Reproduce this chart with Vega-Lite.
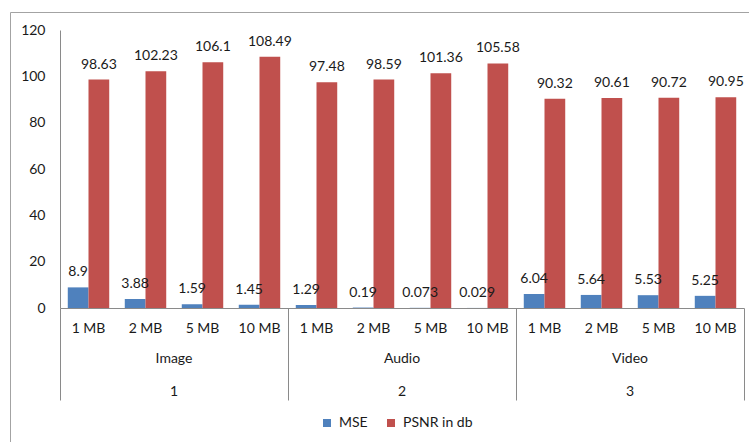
{
  "$schema": "https://vega.github.io/schema/vega-lite/v6.json",
  "width": 745,
  "height": 440,
  "autosize": {"type": "none"},
  "padding": {"left": 10, "top": 12, "right": -6, "bottom": -10},
  "config": {
    "view": {"stroke": "#a3a3a3", "strokeWidth": 1},
    "font": "Lato"
  },
  "datasets": {
    "measures": [
      {"group": "Image", "size": "1 MB", "key": "Image|1 MB", "series": "MSE", "value": 8.9},
      {"group": "Image", "size": "1 MB", "key": "Image|1 MB", "series": "PSNR in db", "value": 98.63},
      {"group": "Image", "size": "2 MB", "key": "Image|2 MB", "series": "MSE", "value": 3.88},
      {"group": "Image", "size": "2 MB", "key": "Image|2 MB", "series": "PSNR in db", "value": 102.23},
      {"group": "Image", "size": "5 MB", "key": "Image|5 MB", "series": "MSE", "value": 1.59},
      {"group": "Image", "size": "5 MB", "key": "Image|5 MB", "series": "PSNR in db", "value": 106.1},
      {"group": "Image", "size": "10 MB", "key": "Image|10 MB", "series": "MSE", "value": 1.45},
      {"group": "Image", "size": "10 MB", "key": "Image|10 MB", "series": "PSNR in db", "value": 108.49},
      {"group": "Audio", "size": "1 MB", "key": "Audio|1 MB", "series": "MSE", "value": 1.29},
      {"group": "Audio", "size": "1 MB", "key": "Audio|1 MB", "series": "PSNR in db", "value": 97.48},
      {"group": "Audio", "size": "2 MB", "key": "Audio|2 MB", "series": "MSE", "value": 0.19},
      {"group": "Audio", "size": "2 MB", "key": "Audio|2 MB", "series": "PSNR in db", "value": 98.59},
      {"group": "Audio", "size": "5 MB", "key": "Audio|5 MB", "series": "MSE", "value": 0.073},
      {"group": "Audio", "size": "5 MB", "key": "Audio|5 MB", "series": "PSNR in db", "value": 101.36},
      {"group": "Audio", "size": "10 MB", "key": "Audio|10 MB", "series": "MSE", "value": 0.029},
      {"group": "Audio", "size": "10 MB", "key": "Audio|10 MB", "series": "PSNR in db", "value": 105.58},
      {"group": "Video", "size": "1 MB", "key": "Video|1 MB", "series": "MSE", "value": 6.04},
      {"group": "Video", "size": "1 MB", "key": "Video|1 MB", "series": "PSNR in db", "value": 90.32},
      {"group": "Video", "size": "2 MB", "key": "Video|2 MB", "series": "MSE", "value": 5.64},
      {"group": "Video", "size": "2 MB", "key": "Video|2 MB", "series": "PSNR in db", "value": 90.61},
      {"group": "Video", "size": "5 MB", "key": "Video|5 MB", "series": "MSE", "value": 5.53},
      {"group": "Video", "size": "5 MB", "key": "Video|5 MB", "series": "PSNR in db", "value": 90.72},
      {"group": "Video", "size": "10 MB", "key": "Video|10 MB", "series": "MSE", "value": 5.25},
      {"group": "Video", "size": "10 MB", "key": "Video|10 MB", "series": "PSNR in db", "value": 90.95}
    ],
    "groups": [
      {"group": "Image", "num": "1", "key": "Image|2 MB"},
      {"group": "Audio", "num": "2", "key": "Audio|2 MB"},
      {"group": "Video", "num": "3", "key": "Video|2 MB"}
    ]
  },
  "layer": [
    {
      "data": {"name": "measures"},
      "mark": {"type": "bar"},
      "encoding": {
        "x": {
          "field": "key",
          "type": "nominal",
          "scale": {
            "domain": ["Image|1 MB", "Image|2 MB", "Image|5 MB", "Image|10 MB", "Audio|1 MB", "Audio|2 MB", "Audio|5 MB", "Audio|10 MB", "Video|1 MB", "Video|2 MB", "Video|5 MB", "Video|10 MB"],
            "range": [50, 734],
            "paddingInner": 0,
            "paddingOuter": 0
          },
          "axis": {
            "title": null,
            "orient": "bottom",
            "offset": -144,
            "labelExpr": "isValid(datum.value) ? split(datum.value, '|')[1] : ''",
            "labelAngle": 0,
            "labelFont": "Lato",
            "labelFontSize": 14,
            "labelColor": "#1a1a1a",
            "labelPadding": -79,
            "domainColor": "#8a8a8a",
            "tickColor": "#8a8a8a",
            "tickSize": 92,
            "bandPosition": 1,
            "tickExtra": true,
            "tickOpacity": {
              "condition": {"test": "!isValid(datum.value) || test(/10 MB$/, datum.value)", "value": 1},
              "value": 0
            }
          }
        },
        "xOffset": {
          "field": "series",
          "type": "nominal",
          "scale": {"domain": ["MSE", "PSNR in db"], "paddingInner": 0, "paddingOuter": 0.375}
        },
        "y": {
          "field": "value",
          "type": "quantitative",
          "scale": {"domain": [0, 120], "range": [296, 18], "nice": false},
          "axis": {
            "title": null,
            "offset": -50,
            "values": [0, 20, 40, 60, 80, 100, 120],
            "grid": false,
            "ticks": false,
            "domainColor": "#8a8a8a",
            "labelFont": "Lato",
            "labelFontSize": 14,
            "labelColor": "#1a1a1a",
            "labelPadding": 15
          }
        },
        "color": {
          "field": "series",
          "type": "nominal",
          "scale": {"domain": ["MSE", "PSNR in db"], "range": ["#4f81bd", "#c0504d"]},
          "legend": {
            "title": null,
            "orient": "none",
            "legendX": 310,
            "legendY": 404,
            "direction": "horizontal",
            "symbolType": "square",
            "symbolSize": 64,
            "symbolStrokeWidth": 0,
            "labelFont": "Lato",
            "labelFontSize": 14,
            "labelColor": "#1a1a1a",
            "labelOffset": 5,
            "columnPadding": 16,
            "padding": 0
          }
        }
      }
    },
    {
      "data": {"name": "measures"},
      "mark": {"type": "text", "baseline": "alphabetic", "align": "center", "dy": -11, "fontSize": 14, "font": "Lato", "color": "#1a1a1a"},
      "encoding": {
        "x": {"field": "key", "type": "nominal"},
        "xOffset": {"field": "series", "type": "nominal"},
        "y": {"field": "value", "type": "quantitative"},
        "text": {"field": "value", "type": "quantitative"}
      }
    },
    {
      "data": {"name": "groups"},
      "mark": {"type": "text", "baseline": "middle", "align": "center", "dy": 51, "fontSize": 14, "font": "Lato", "color": "#1a1a1a"},
      "encoding": {
        "x": {"field": "key", "type": "nominal", "bandPosition": 1},
        "y": {"datum": 0},
        "text": {"field": "group", "type": "nominal"}
      }
    },
    {
      "data": {"name": "groups"},
      "mark": {"type": "text", "baseline": "middle", "align": "center", "dy": 84, "fontSize": 14, "font": "Lato", "color": "#1a1a1a"},
      "encoding": {
        "x": {"field": "key", "type": "nominal", "bandPosition": 1},
        "y": {"datum": 0},
        "text": {"field": "num", "type": "nominal"}
      }
    }
  ]
}
